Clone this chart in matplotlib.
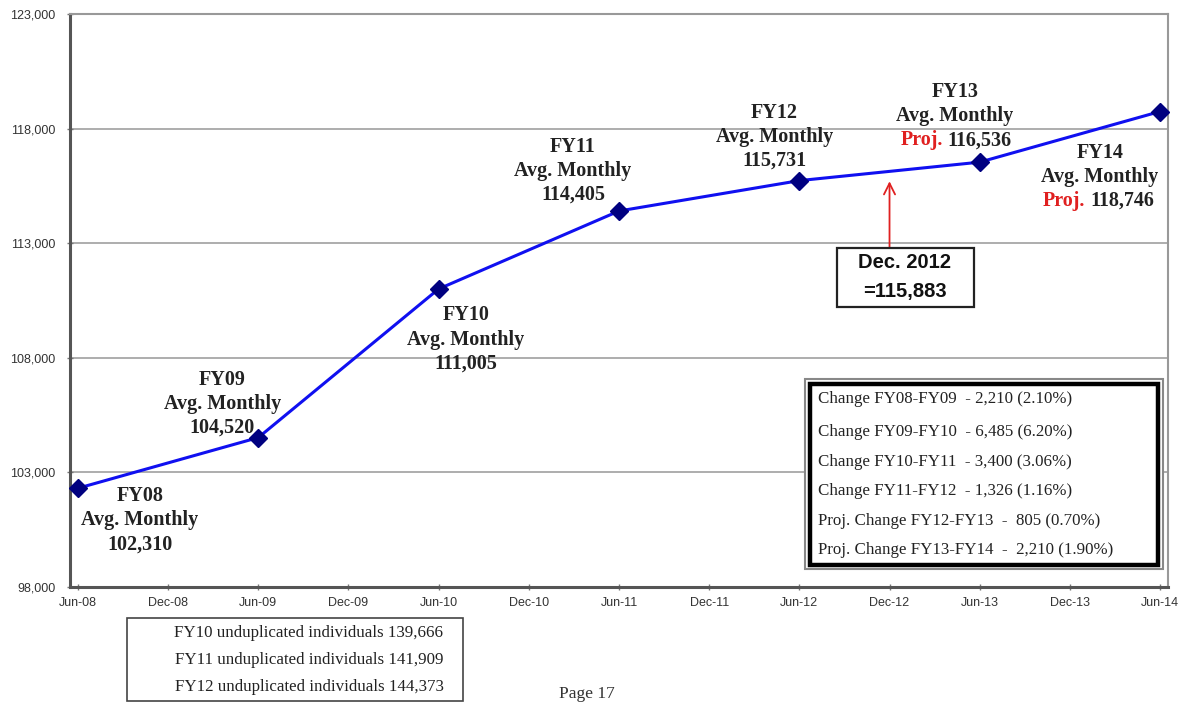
import matplotlib
matplotlib.use("Agg")
import matplotlib.pyplot as plt
from matplotlib.patches import Rectangle

# ---- data ----
months = [0, 12, 24, 36, 48, 60, 72]          # months since Jun-08
values = [102310, 104520, 111005, 114405, 115731, 116536, 118746]
fy_names = ["FY08", "FY09", "FY10", "FY11", "FY12", "FY13", "FY14"]
value_labels = ["102,310", "104,520", "111,005", "114,405", "115,731", "116,536", "118,746"]
projected = [False, False, False, False, False, True, True]
tick_months = list(range(0, 73, 6))
tick_labels = ["Jun-08", "Dec-08", "Jun-09", "Dec-09", "Jun-10", "Dec-10", "Jun-11",
               "Dec-11", "Jun-12", "Dec-12", "Jun-13", "Dec-13", "Jun-14"]
y_ticks = [98000, 103000, 108000, 113000, 118000, 123000]
dec2012_month = 54
dec2012_value = 115883
change_lines = [
    "Change FY08-FY09  - 2,210 (2.10%)",
    "Change FY09-FY10  - 6,485 (6.20%)",
    "Change FY10-FY11  - 3,400 (3.06%)",
    "Change FY11-FY12  - 1,326 (1.16%)",
    "Proj. Change FY12-FY13  -  805 (0.70%)",
    "Proj. Change FY13-FY14  -  2,210 (1.90%)",
]
undup_lines = [
    "FY10 unduplicated individuals 139,666",
    "FY11 unduplicated individuals 141,909",
    "FY12 unduplicated individuals 144,373",
]

W, H = 1192, 704
fig = plt.figure(figsize=(W / 100, H / 100), dpi=100)
fig.patch.set_facecolor("white")

def fx(px):
    return px / W

def fy(py):
    return 1 - py / H

ax = fig.add_axes([fx(70), fy(587), fx(1168) - fx(70), fy(14) - fy(587)])
ax.set_xlim(-0.53, 72.53)
ax.set_ylim(98000, 123000)
ax.set_yticks(y_ticks)
ax.set_yticklabels([f"{v:,}" for v in y_ticks], fontsize=9, family="Liberation Sans", color="#333333")
ax.set_xticks(tick_months)
ax.set_xticklabels(tick_labels, fontsize=9, family="Liberation Sans", color="#333333")
ax.tick_params(axis="both", direction="inout", length=5, color="#777777", width=1)
ax.tick_params(axis="x", pad=5)
ax.tick_params(axis="y", pad=8)
for yv in y_ticks[1:-1]:
    ax.axhline(yv, color="#a0a0a0", lw=1.2, zorder=0)
ax.spines["left"].set_color("#555555")
ax.spines["left"].set_linewidth(2.2)
ax.spines["bottom"].set_color("#555555")
ax.spines["bottom"].set_linewidth(2.2)
ax.spines["top"].set_color("#999999")
ax.spines["top"].set_linewidth(1.5)
ax.spines["right"].set_color("#999999")
ax.spines["right"].set_linewidth(1.5)

ax.plot(months, values, color="#1010f0", lw=2.2, zorder=3, clip_on=False)
ax.plot(months, values, linestyle="none", marker="D", markersize=9.5,
        color="#000080", zorder=4, clip_on=False)

# label offsets (pixels): centre dx, line dys, split dx for Proj.
label_dx = [62, -36, 27, -46, -25, -25, -60]
label_dy = [(-8, -32, -56), (58, 34, 10), (-26, -51, -75), (64, 40, 16),
            (68, 44, 20), (70, 46, 22), (-41, -65, -89)]
split_dx = [0, 0, 0, 0, 0, -37, -75]
tf = dict(family="Liberation Serif", fontweight="bold", fontsize=14.5, color="#222222")
for i in range(len(months)):
    x, y = months[i], values[i]
    d1, d2, d3 = label_dy[i]
    ax.annotate(fy_names[i], (x, y), xytext=(label_dx[i], d1), textcoords="offset pixels",
                ha="center", va="center", **tf)
    ax.annotate("Avg. Monthly", (x, y), xytext=(label_dx[i], d2), textcoords="offset pixels",
                ha="center", va="center", **tf)
    if projected[i]:
        ax.annotate("Proj.", (x, y), xytext=(split_dx[i], d3), textcoords="offset pixels",
                    ha="right", va="center", **{**tf, "color": "#e02020"})
        ax.annotate(value_labels[i], (x, y), xytext=(split_dx[i] + 5, d3), textcoords="offset pixels",
                    ha="left", va="center", **tf)
    else:
        ax.annotate(value_labels[i], (x, y), xytext=(label_dx[i], d3), textcoords="offset pixels",
                    ha="center", va="center", **tf)

# Dec 2012 arrow and box
ax.annotate("", xy=(dec2012_month, dec2012_value), xytext=(0, -71), textcoords="offset pixels",
            arrowprops=dict(arrowstyle="->", color="#e02020", lw=1.3, mutation_scale=20,
                            shrinkA=0, shrinkB=3))
fig.patches.append(Rectangle((fx(837), fy(307)), fx(974) - fx(837), fy(248) - fy(307),
                             transform=fig.transFigure, fc="white", ec="#222222", lw=1.6, zorder=5))
fig.text(fx(905), fy(263), "Dec. 2012", ha="center", va="center", family="Liberation Sans",
         fontweight="bold", fontsize=14.5, color="#111111", zorder=7)
fig.text(fx(905), fy(292), "=115,883", ha="center", va="center", family="Liberation Sans",
         fontweight="bold", fontsize=14.5, color="#111111", zorder=7)

# change summary box (double border)
fig.patches.append(Rectangle((fx(805), fy(569)), fx(1163) - fx(805), fy(379) - fy(569),
                             transform=fig.transFigure, fc="white", ec="#888888", lw=1.5, zorder=5))
fig.patches.append(Rectangle((fx(810), fy(565)), fx(1158) - fx(810), fy(384) - fy(565),
                             transform=fig.transFigure, fc="white", ec="#000000", lw=3.2, zorder=6))
change_ys = [399, 432, 462, 491, 521, 550]
for line, py in zip(change_lines, change_ys):
    fig.text(fx(818), fy(py), line, ha="left", va="center", family="Liberation Serif",
             fontsize=12.2, color="#222222", zorder=7)

# unduplicated box
fig.patches.append(Rectangle((fx(127), fy(701)), fx(463) - fx(127), fy(618) - fy(701),
                             transform=fig.transFigure, fc="white", ec="#444444", lw=1.2, zorder=5))
undup_ys = [633, 660, 687]
for line, py in zip(undup_lines, undup_ys):
    fig.text(fx(309), fy(py), line, ha="center", va="center", family="Liberation Serif",
             fontsize=12.2, color="#222222", zorder=7)

fig.text(fx(587), fy(694), "Page 17", ha="center", va="center", family="Liberation Serif",
         fontsize=12.5, color="#333333")

fig.savefig("out.png", dpi=100)
